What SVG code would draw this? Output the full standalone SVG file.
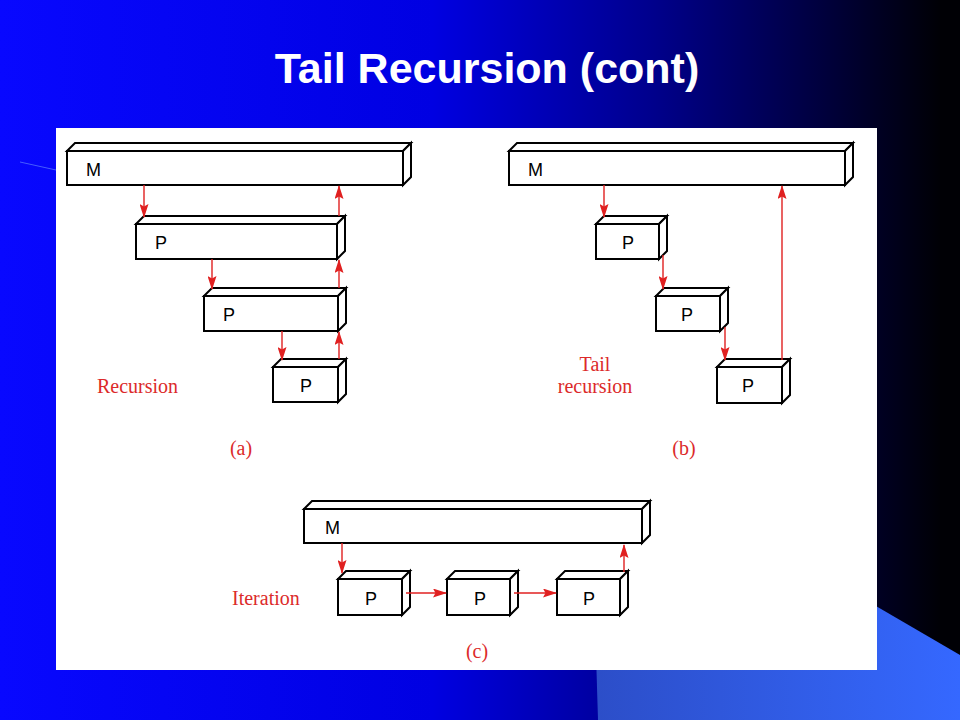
<svg xmlns="http://www.w3.org/2000/svg" width="960" height="720" viewBox="0 0 960 720">
<defs>
<linearGradient id="bg" x1="0" y1="0" x2="1" y2="0">
<stop offset="0" stop-color="#0808ff"/>
<stop offset="0.45" stop-color="#0000e2"/>
<stop offset="0.68" stop-color="#00008c"/>
<stop offset="0.85" stop-color="#000040"/>
<stop offset="0.98" stop-color="#000005"/>
</linearGradient>
<linearGradient id="deco" x1="0" y1="0" x2="1" y2="0">
<stop offset="0" stop-color="#2c4ec8"/>
<stop offset="1" stop-color="#3568ff"/>
</linearGradient>
<marker id="ah" viewBox="0 0 14 9" refX="13" refY="4.5" markerWidth="14" markerHeight="9" markerUnits="userSpaceOnUse" orient="auto">
<path d="M0,0 L14,4.5 L0,9 L2.5,4.5 Z" fill="#e02020"/>
</marker>
<style>
.box rect,.box path{fill:#fff;stroke:#000;stroke-width:2;stroke-linejoin:miter}
.lbl{font-family:"Liberation Sans",Arial,sans-serif;font-size:18px;fill:#000}
.red{font-family:"Liberation Serif","Times New Roman",serif;font-size:20px;fill:#dc2a2a}
.conn line{stroke:#e02020;stroke-width:1.4;marker-end:url(#ah)}
.title{font-family:"Liberation Sans",Arial,sans-serif;font-size:43px;font-weight:bold;fill:#fff}
</style>
</defs>
<rect x="0" y="0" width="960" height="720" fill="url(#bg)"/>
<polygon points="594,588 845,588 960,655 960,720 598,720" fill="url(#deco)"/>
<line x1="20" y1="162" x2="56" y2="170" stroke="#6080ff" stroke-width="1" opacity="0.7"/>
<text class="title" x="487" y="83" text-anchor="middle">Tail Recursion (cont)</text>
<rect x="56" y="128" width="821" height="542" fill="#fff"/>

<!-- (a) -->
<g id="a-M" class="box"><path d="M67,151 L75,143 L411,143 L403,151 Z"/><path d="M403,151 L411,143 L411,177 L403,185 Z"/><rect x="67" y="151" width="336" height="34"/><text class="lbl" x="86" y="176">M</text></g>
<g id="a-P1" class="box"><path d="M136,224 L144,216 L345,216 L337,224 Z"/><path d="M337,224 L345,216 L345,251 L337,259 Z"/><rect x="136" y="224" width="201" height="35"/><text class="lbl" x="155" y="249">P</text></g>
<g id="a-P2" class="box"><path d="M204,296 L212,288 L346,288 L338,296 Z"/><path d="M338,296 L346,288 L346,323 L338,331 Z"/><rect x="204" y="296" width="134" height="35"/><text class="lbl" x="223" y="321">P</text></g>
<g id="a-P3" class="box"><path d="M273,367 L281,359 L346,359 L338,367 Z"/><path d="M338,367 L346,359 L346,394 L338,402 Z"/><rect x="273" y="367" width="65" height="35"/><text class="lbl" x="300" y="392">P</text></g>

<!-- (b) -->
<g id="b-M" class="box"><path d="M509,151 L517,143 L853,143 L845,151 Z"/><path d="M845,151 L853,143 L853,177 L845,185 Z"/><rect x="509" y="151" width="336" height="34"/><text class="lbl" x="528" y="176">M</text></g>
<g id="b-P1" class="box"><path d="M596,224 L604,216 L667,216 L659,224 Z"/><path d="M659,224 L667,216 L667,251 L659,259 Z"/><rect x="596" y="224" width="63" height="35"/><text class="lbl" x="622" y="249">P</text></g>
<g id="b-P2" class="box"><path d="M656,296 L664,288 L728,288 L720,296 Z"/><path d="M720,296 L728,288 L728,323 L720,331 Z"/><rect x="656" y="296" width="64" height="35"/><text class="lbl" x="681" y="321">P</text></g>
<g id="b-P3" class="box"><path d="M717,367 L725,359 L790,359 L782,367 Z"/><path d="M782,367 L790,359 L790,395 L782,403 Z"/><rect x="717" y="367" width="65" height="36"/><text class="lbl" x="742" y="392">P</text></g>

<!-- (c) -->
<g id="c-M" class="box"><path d="M304,509 L312,501 L650,501 L642,509 Z"/><path d="M642,509 L650,501 L650,535 L642,543 Z"/><rect x="304" y="509" width="338" height="34"/><text class="lbl" x="325" y="534">M</text></g>
<g id="c-P1" class="box"><path d="M338,579 L346,571 L410,571 L402,579 Z"/><path d="M402,579 L410,571 L410,607 L402,615 Z"/><rect x="338" y="579" width="64" height="36"/><text class="lbl" x="365" y="605">P</text></g>
<g id="c-P2" class="box"><path d="M447,579 L455,571 L518,571 L510,579 Z"/><path d="M510,579 L518,571 L518,607 L510,615 Z"/><rect x="447" y="579" width="63" height="36"/><text class="lbl" x="474" y="605">P</text></g>
<g id="c-P3" class="box"><path d="M557,579 L565,571 L628,571 L620,579 Z"/><path d="M620,579 L628,571 L628,607 L620,615 Z"/><rect x="557" y="579" width="63" height="36"/><text class="lbl" x="583" y="605">P</text></g>

<g id="connectors" class="conn">
<line x1="144" y1="185" x2="144" y2="217"/>
<line x1="339" y1="216" x2="339" y2="186"/>
<line x1="212" y1="259" x2="212" y2="289"/>
<line x1="339" y1="288" x2="339" y2="260"/>
<line x1="282" y1="331" x2="282" y2="360"/>
<line x1="339" y1="359" x2="339" y2="332"/>
<line x1="604" y1="185" x2="604" y2="217"/>
<line x1="663" y1="255" x2="663" y2="289"/>
<line x1="725" y1="327" x2="725" y2="360"/>
<line x1="782" y1="360" x2="782" y2="186"/>
<line x1="342" y1="543" x2="342" y2="573"/>
<line x1="406" y1="593" x2="446" y2="593"/>
<line x1="514" y1="593" x2="556" y2="593"/>
<line x1="624" y1="572" x2="624" y2="545"/>
</g>

<text class="red" x="97" y="393">Recursion</text>
<text class="red" x="595" y="371" text-anchor="middle">Tail</text>
<text class="red" x="595" y="393" text-anchor="middle">recursion</text>
<text class="red" x="232" y="605">Iteration</text>
<text class="red" x="241" y="455" text-anchor="middle">(a)</text>
<text class="red" x="684" y="455" text-anchor="middle">(b)</text>
<text class="red" x="477" y="658" text-anchor="middle">(c)</text>
</svg>
